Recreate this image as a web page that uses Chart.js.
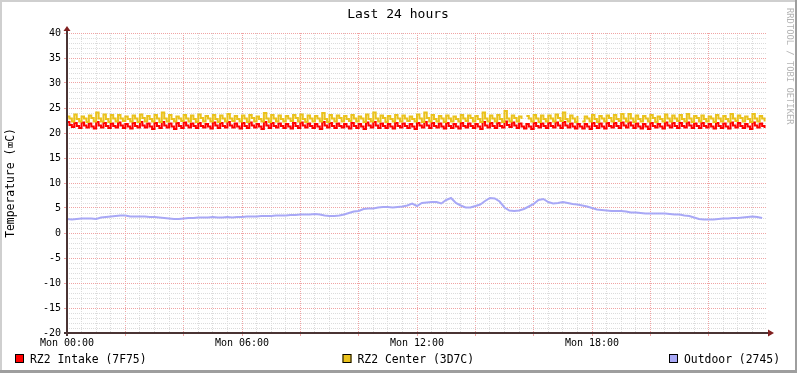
<!DOCTYPE html>
<html><head><meta charset="utf-8">
<script src="https://cdn.jsdelivr.net/npm/chart.js@4/dist/chart.umd.min.js"></script>
<style>html,body{margin:0;padding:0;background:#fff}canvas{display:block}</style>
</head><body>
<canvas id="c" width="797" height="373"></canvas>
<script>
const chartTitle = 'Last 24 hours';
const yAxisTitle = 'Temperature (\u2327C)';
const watermark = 'RRDTOOL / TOBI OETIKER';
const seriesNames = ['RZ2 Intake (7F75)', 'RZ2 Center (3D7C)', 'Outdoor (2745)'];
const seriesColors = ['#FF0000', '#EAC21C', '#A8A8F6'];
const xTickLabels = ['Mon 00:00', 'Mon 06:00', 'Mon 12:00', 'Mon 18:00'];
const sampleMinutes = 5;      // intake / center sample spacing
const outdoorMinutes = 10;    // outdoor sample spacing

const intake = [
22.2,21.6,21.2, 22.0,21.4,21.0, 22.1,21.5,21.1, 21.9,21.3,20.9, 22.2,21.5,21.1, 22.0,21.4,21.0,
21.9,21.4,21.1, 22.1,21.5,21.0, 21.8,21.3,20.9, 22.0,21.4,21.1, 22.2,21.5,21.1, 21.9,21.3,20.8,
22.0,21.4,21.0, 22.2,21.5,21.1, 21.9,21.3,20.8, 22.0,21.4,21.0, 22.1,21.5,21.1, 21.9,21.4,21.0,
22.0,21.4,21.1, 21.8,21.3,20.9, 22.1,21.5,21.0, 22.0,21.4,21.1, 22.2,21.5,21.1, 21.9,21.3,20.9,
22.0,21.4,21.0, 22.1,21.5,21.1, 21.8,21.3,20.8, 22.2,21.5,21.0, 22.0,21.4,21.1, 21.9,21.4,21.0,
21.8,21.3,20.9, 22.0,21.4,21.0, 22.1,21.5,21.1, 21.9,21.4,21.0, 21.8,21.3,20.8, 22.2,21.5,21.1,
22.0,21.4,21.0, 21.9,21.4,21.1, 21.8,21.3,20.9, 22.0,21.4,21.0, 21.8,21.3,20.8, 22.1,21.5,21.1,
22.2,21.5,21.0, 21.9,21.4,21.0, 21.8,21.3,20.9, 22.0,21.4,21.1, 21.9,21.4,21.0, 21.8,21.3,20.8,
22.0,21.5,21.1, 22.2,21.5,21.0, 22.0,21.4,21.1, 21.9,21.3,20.9, 22.0,21.4,21.0, 21.8,21.3,20.9,
22.0,21.4,21.1, 21.9,21.4,21.0, 21.8,21.3,20.8, 22.2,21.5,21.1, 22.0,21.4,21.0, 22.0,21.4,21.1,
22.3,21.6,21.2, 22.1,21.5,21.0, 21.9,21.3,20.9, 21.8,21.3,20.8, 22.0,21.4,21.1, 21.9,21.4,21.0,
22.0,21.4,21.1, 22.1,21.5,21.0, 22.2,21.5,21.1, 21.9,21.3,20.9, 21.8,21.3,20.9, 21.8,21.3,20.8,
22.0,21.4,21.0, 21.9,21.3,20.9, 22.0,21.4,21.1, 22.0,21.4,21.0, 22.1,21.5,21.1, 22.1,21.5,21.0,
21.9,21.3,20.9, 21.8,21.3,20.8, 22.0,21.4,21.1, 21.8,21.3,20.9, 22.1,21.5,21.1, 22.0,21.4,21.0,
22.0,21.4,21.1, 22.1,21.5,21.0, 21.9,21.4,21.0, 22.0,21.4,21.1, 21.8,21.3,20.9, 22.0,21.4,21.0,
21.9,21.3,20.9, 22.1,21.5,21.1, 22.0,21.4,21.0, 21.8,21.3,20.8, 22.1,21.5,21.1, 21.9,21.4,21.0
];

const center = [
23.3,22.9,22.3, 23.7,22.8,22.3, 23.3,22.9,22.2, 23.5,23.0,22.3, 24.1,22.9,22.3, 23.7,22.8,22.2,
23.6,22.9,22.3, 23.6,22.9,22.4, 23.3,22.8,22.3, 23.5,22.9,22.2, 23.7,23.0,22.3, 23.4,22.8,22.3,
23.6,22.9,22.2, 24.1,22.9,22.3, 23.6,22.8,22.3, 23.3,22.9,22.4, 23.6,22.9,22.3, 23.5,22.8,22.2,
23.7,23.0,22.3, 23.4,22.9,22.3, 23.6,22.8,22.2, 23.5,22.9,22.3, 23.8,22.9,22.4, 23.4,22.8,22.3,
23.5,22.9,22.2, 23.6,23.0,22.3, 23.3,22.8,22.3, 24.0,22.9,22.2, 23.6,22.9,22.3, 23.5,22.8,22.3,
23.4,22.9,22.4, 23.6,23.0,22.3, 23.7,22.8,22.2, 23.5,22.9,22.3, 23.4,22.9,22.3, 24.0,22.8,22.2,
23.6,22.9,22.3, 23.5,23.0,22.3, 23.4,22.8,22.4, 23.6,22.9,22.3, 23.3,22.9,22.2, 23.7,22.8,22.3,
24.1,22.9,22.3, 23.5,23.0,22.2, 23.4,22.8,22.3, 23.6,22.9,22.3, 23.5,22.9,22.4, 23.3,22.8,22.3,
23.7,22.9,22.2, 24.1,23.0,22.3, 23.6,22.8,22.3, 23.4,22.9,22.2, 23.5,22.9,22.3, 23.3,22.8,22.3,
23.6,22.9,22.4, 23.5,23.0,22.3, 23.4,22.8,22.2, 24.1,22.9,22.3, 23.5,22.9,22.3, 23.6,22.8,22.2,
24.4,22.9,22.3, 23.5,23.0,22.3, 23.3,22.8,null, 23.4,22.9,22.3, 23.6,22.9,22.2, 23.5,22.8,22.3,
23.5,22.9,22.3, 23.7,23.0,22.4, 24.1,22.8,22.3, 23.5,22.9,22.2, 23.4,null,22.3, 23.3,22.9,22.3,
23.6,22.8,22.2, 23.4,22.9,22.3, 23.5,23.0,22.3, 23.6,22.8,22.4, 23.8,22.9,22.3, 23.8,22.9,22.2,
23.5,22.8,22.3, 23.4,22.9,22.3, 23.6,23.0,22.2, 23.3,22.8,22.3, 23.7,22.9,22.3, 23.5,22.9,22.4,
23.6,22.8,22.3, 23.8,22.9,22.2, 23.4,23.0,22.3, 23.5,22.8,22.3, 23.3,22.9,22.2, 23.6,22.9,22.3,
23.4,22.8,22.3, 23.8,22.9,22.4, 23.5,23.0,22.3, 23.3,22.8,22.2, 23.8,22.9,22.3, 23.4,22.9,22.3
];

const outdoor = [
2.8,2.7,2.8,2.9,2.9,2.9,2.8,3.1,3.2,3.3,3.4,3.5,3.5,3.3,3.3,3.3,3.3,3.2,3.2,3.1,
3.0,2.9,2.8,2.8,2.9,3.0,3.0,3.1,3.1,3.1,3.2,3.1,3.1,3.2,3.1,3.2,3.2,3.3,3.3,3.3,
3.4,3.4,3.4,3.5,3.5,3.5,3.6,3.6,3.7,3.7,3.7,3.8,3.7,3.5,3.4,3.4,3.5,3.7,4.0,4.3,
4.4,4.8,4.9,4.9,5.1,5.2,5.2,5.1,5.2,5.3,5.5,5.9,5.4,6.0,6.1,6.2,6.2,5.9,6.6,7.0,
6.0,5.5,5.1,5.1,5.4,5.7,6.4,7.0,6.9,6.3,5.1,4.5,4.4,4.5,4.8,5.3,5.8,6.6,6.8,6.2,
5.9,6.0,6.2,6.0,5.8,5.7,5.5,5.3,5.0,4.7,4.6,4.5,4.4,4.4,4.4,4.3,4.1,4.1,4.0,3.9,
3.9,3.9,3.9,3.9,3.8,3.7,3.7,3.5,3.4,3.1,2.8,2.7,2.7,2.7,2.8,2.9,2.9,3.0,3.0,3.1,
3.2,3.3,3.2,3.0
];

const MINOR = '#DCDCDC';
const MAJOR = '#F0A4A4';
const FONT = '"DejaVu Sans Mono", monospace';

const toXY = (arr, step) => arr.map((v, i) => ({ x: i * step, y: v }));

const deco = {
  id: 'deco',
  beforeDraw(chart) {
    const ctx = chart.ctx;
    ctx.save();
    ctx.fillStyle = '#ffffff';
    ctx.fillRect(0, 0, chart.width, chart.height);
    ctx.restore();
  },
  afterDraw(chart) {
    const { ctx, chartArea: a } = chart;
    const W = chart.width, H = chart.height;
    ctx.save();
    // frame
    ctx.fillStyle = '#CFCFCF';
    ctx.fillRect(0, 0, W, 2);
    ctx.fillRect(0, 0, 2, H);
    ctx.fillStyle = '#9E9E9E';
    ctx.fillRect(0, H - 3, W, 3);
    ctx.fillRect(W - 2, 0, 2, H);
    // axes
    ctx.fillStyle = '#4a3434';
    ctx.fillRect(a.left - 3, a.bottom - 1, a.right - a.left + 5, 2);
    ctx.fillRect(a.left - 1, a.top - 3, 2, a.bottom - a.top + 6);
    ctx.fillStyle = '#801F1F';
    ctx.beginPath();
    ctx.moveTo(a.left, a.top - 7); ctx.lineTo(a.left - 3.5, a.top - 2); ctx.lineTo(a.left + 3.5, a.top - 2); ctx.closePath(); ctx.fill();
    ctx.beginPath();
    ctx.moveTo(a.right + 7, a.bottom); ctx.lineTo(a.right + 1, a.bottom - 3.5); ctx.lineTo(a.right + 1, a.bottom + 3.5); ctx.closePath(); ctx.fill();
    // title
    ctx.fillStyle = '#000';
    ctx.font = '13px ' + FONT;
    ctx.textAlign = 'center';
    ctx.textBaseline = 'alphabetic';
    ctx.fillText(chartTitle, 398, 18);
    // y axis title
    ctx.save();
    ctx.translate(11, (a.top + a.bottom) / 2);
    ctx.rotate(-Math.PI / 2);
    ctx.font = '11.4px ' + FONT;
    ctx.textAlign = 'center';
    ctx.textBaseline = 'middle';
    ctx.fillText(yAxisTitle, 0, 0);
    ctx.restore();
    // watermark
    ctx.save();
    ctx.translate(789, 8);
    ctx.rotate(Math.PI / 2);
    ctx.font = '8.8px ' + FONT;
    ctx.fillStyle = '#B4B4B4';
    ctx.textAlign = 'left';
    ctx.textBaseline = 'middle';
    ctx.fillText(watermark, 0, 0);
    ctx.restore();
    // legend
    const boxX = [15, 342.5, 669];
    ctx.font = '11.4px ' + FONT;
    ctx.textAlign = 'left';
    ctx.textBaseline = 'alphabetic';
    for (let i = 0; i < seriesNames.length; i++) {
      ctx.fillStyle = seriesColors[i];
      ctx.fillRect(boxX[i], 354, 9, 9);
      ctx.strokeStyle = '#000';
      ctx.lineWidth = 1;
      ctx.strokeRect(boxX[i] + 0.5, 354.5, 8, 8);
      ctx.fillStyle = '#000';
      ctx.fillText(seriesNames[i], boxX[i] + 15, 363);
    }
    ctx.restore();
  }
};

new Chart(document.getElementById('c'), {
  type: 'line',
  data: {
    datasets: [
      { label: seriesNames[0], data: toXY(intake, sampleMinutes), borderColor: seriesColors[0], borderWidth: 2, pointRadius: 0, stepped: true, spanGaps: false, order: 1 },
      { label: seriesNames[1], data: toXY(center, sampleMinutes), borderColor: seriesColors[1], borderWidth: 2, pointRadius: 0, stepped: true, spanGaps: false, order: 0 },
      { label: seriesNames[2], data: toXY(outdoor, outdoorMinutes), borderColor: seriesColors[2], borderWidth: 2, pointRadius: 0, tension: 0, order: 2 }
    ]
  },
  options: {
    responsive: false,
    animation: false,
    devicePixelRatio: 1,
    events: [],
    layout: { padding: { left: 0, right: 30, top: 33, bottom: 0 } },
    plugins: { legend: { display: false }, tooltip: { enabled: false }, title: { display: false } },
    scales: {
      x: {
        type: 'linear', min: 0, max: 1440,
        ticks: {
          stepSize: 30, autoSkip: false, maxRotation: 0, minRotation: 0, padding: 1,
          color: '#000', font: { family: FONT, size: 10 },
          callback: v => (v % 360 === 0 && v < 1440) ? xTickLabels[v / 360] : ''
        },
        grid: {
          lineWidth: 1, drawTicks: true, tickLength: 3,
          color: c => (!c.tick || c.tick.value >= 1440 || c.tick.value === 0) ? 'rgba(0,0,0,0)' : (c.tick.value % 120 === 0 ? MAJOR : MINOR),
          tickColor: c => (c.tick && c.tick.value % 120 === 0 && c.tick.value < 1440) ? MAJOR : 'rgba(0,0,0,0)'
        },
        border: { display: false, dash: [1, 1] },
        afterFit: s => { s.height = 40; }
      },
      y: {
        min: -20, max: 40,
        ticks: {
          stepSize: 1, autoSkip: false, padding: 3,
          color: '#000', font: { family: FONT, size: 10 },
          callback: v => (v % 5 === 0) ? String(v) : ''
        },
        grid: {
          lineWidth: 1, drawTicks: true, tickLength: 3,
          color: c => (!c.tick || c.tick.value === -20) ? 'rgba(0,0,0,0)' : (c.tick.value % 5 === 0 ? MAJOR : MINOR),
          tickColor: c => (c.tick && c.tick.value % 5 === 0) ? MAJOR : 'rgba(0,0,0,0)'
        },
        border: { display: false, dash: [1, 1] },
        afterFit: s => { s.width = 67; }
      }
    }
  },
  plugins: [deco]
});
</script>
</body></html>
